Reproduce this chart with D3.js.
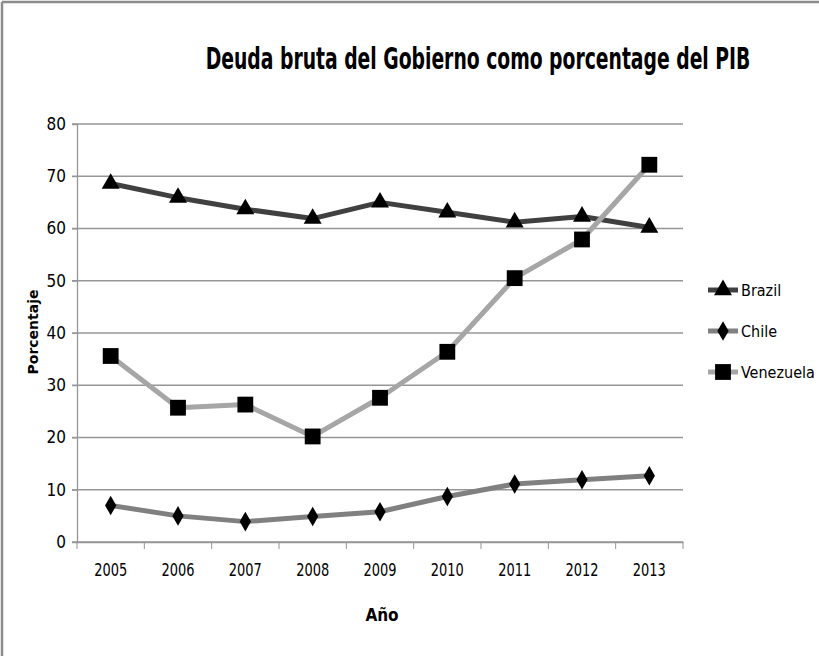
<!DOCTYPE html>
<meta charset="utf-8">
<style>
    body { margin: 0; background: #fff; }
    text { font-family: "DejaVu Sans Condensed", "Liberation Sans", sans-serif; fill: #000; }
    .grid line { stroke: #969696; stroke-width: 1.3px; }
    .axis path, .axis line { stroke: #969696; }
</style>
<svg width="819" height="656"></svg>
<script src="https://d3js.org/d3.v7.min.js"></script>
<script>
    var years = ["2005", "2006", "2007", "2008", "2009", "2010", "2011", "2012", "2013"];
    var yTicks = [0, 10, 20, 30, 40, 50, 60, 70, 80];
    var brazil = [68.6, 65.9, 63.7, 61.9, 65.0, 63.1, 61.2, 62.3, 60.2];
    var chile = [7.0, 5.0, 3.9, 4.9, 5.8, 8.7, 11.1, 11.9, 12.7];
    var venezuela = [35.6, 25.7, 26.3, 20.2, 27.6, 36.4, 50.5, 57.9, 72.2];

    var series = [
        {name: "Brazil", values: brazil, color: "#404040", symbol: d3.symbolTriangle, size: 140},
        {name: "Chile", values: chile, color: "#808080", symbol: d3.symbolDiamond, size: 110},
        {name: "Venezuela", values: venezuela, color: "#a6a6a6", symbol: d3.symbolSquare, size: 250}
    ];

    var svg = d3.select("svg");

    // chart border (only top and left are visible in the picture)
    svg.append("line").attr("x1", 2).attr("y1", 2).attr("x2", 819).attr("y2", 2)
        .attr("stroke", "#8c8c8c").attr("stroke-width", 2.5);
    svg.append("line").attr("x1", 2).attr("y1", 2).attr("x2", 2).attr("y2", 656)
        .attr("stroke", "#8c8c8c").attr("stroke-width", 2.5);

    var plotLeft = 77, plotRight = 683, plotTop = 124, plotBottom = 542;

    var x = d3.scaleBand().domain(years).range([plotLeft, plotRight]);
    var y = d3.scaleLinear().domain([0, 80]).range([plotBottom, plotTop]);

    // gridlines
    svg.append("g").attr("class", "grid")
        .selectAll("line").data(yTicks).enter().append("line")
        .attr("x1", plotLeft - 5).attr("x2", plotRight)
        .attr("y1", d => y(d)).attr("y2", d => y(d));

    // y axis
    var yAxis = svg.append("g").attr("class", "axis")
        .attr("transform", "translate(" + plotLeft + ",0)")
        .call(d3.axisLeft(y).tickValues(yTicks).tickSize(5).tickPadding(6));
    yAxis.select(".domain").attr("stroke-width", 1.3);
    yAxis.selectAll("text").style("font-size", "17px");

    // x axis with ticks between categories
    var xAxis = svg.append("g").attr("class", "axis")
        .attr("transform", "translate(0," + plotBottom + ")")
        .call(d3.axisBottom(x).tickSize(0).tickPadding(22));
    xAxis.select(".domain").attr("stroke-width", 1.3);
    xAxis.selectAll("text").style("font-size", "17px")
        .attr("textLength", 33).attr("lengthAdjust", "spacingAndGlyphs");
    xAxis.selectAll(".sep").data(years.concat(["end"])).enter().append("line")
        .attr("class", "sep")
        .attr("x1", (d, i) => plotLeft + i * x.step()).attr("x2", (d, i) => plotLeft + i * x.step())
        .attr("y1", 0).attr("y2", 7);

    var cx = d => x(d) + x.bandwidth() / 2;

    var line = d3.line().x((d, i) => cx(years[i])).y(d => y(d));

    series.forEach(function (s) {
        svg.append("path").datum(s.values)
            .attr("d", line)
            .attr("fill", "none")
            .attr("stroke", s.color)
            .attr("stroke-width", 5)
            .attr("stroke-linejoin", "round");
    });

    series.forEach(function (s) {
        svg.append("g").selectAll("path").data(s.values).enter().append("path")
            .attr("d", d3.symbol().type(s.symbol).size(s.size))
            .attr("transform", (d, i) => "translate(" + cx(years[i]) + "," + y(d) + ")")
            .attr("fill", "#000");
    });

    // title, squeezed horizontally to the width of the original
    var title = svg.append("g").attr("transform", "translate(478,69)")
        .append("text")
        .attr("text-anchor", "middle")
        .style("font-size", "31px").style("font-weight", "bold")
        .text("Deuda bruta del Gobierno como porcentage del PIB");
    var tw = title.node().getComputedTextLength();
    title.attr("transform", "scale(" + (545 / tw) + ",1)");

    // axis titles
    svg.append("text")
        .attr("x", 382).attr("y", 621)
        .attr("text-anchor", "middle")
        .style("font-size", "17px").style("font-weight", "bold")
        .text("Año");
    svg.append("text")
        .attr("transform", "translate(38,332) rotate(-90)")
        .attr("text-anchor", "middle")
        .style("font-family", "'DejaVu Sans', sans-serif")
        .style("font-size", "14px").style("font-weight", "bold")
        .text("Porcentaje");

    // legend
    var legend = svg.append("g").selectAll("g").data(series).enter().append("g")
        .attr("transform", (d, i) => "translate(708," + (290 + i * 41) + ")");
    legend.append("line").attr("x1", 0).attr("x2", 30)
        .attr("stroke", d => d.color).attr("stroke-width", 5);
    legend.append("path")
        .attr("d", d => d3.symbol().type(d.symbol).size(d.size)())
        .attr("transform", "translate(15,0)")
        .attr("fill", "#000");
    legend.append("text").attr("x", 33).attr("y", 6)
        .style("font-size", "16px")
        .text(d => d.name);
</script>
